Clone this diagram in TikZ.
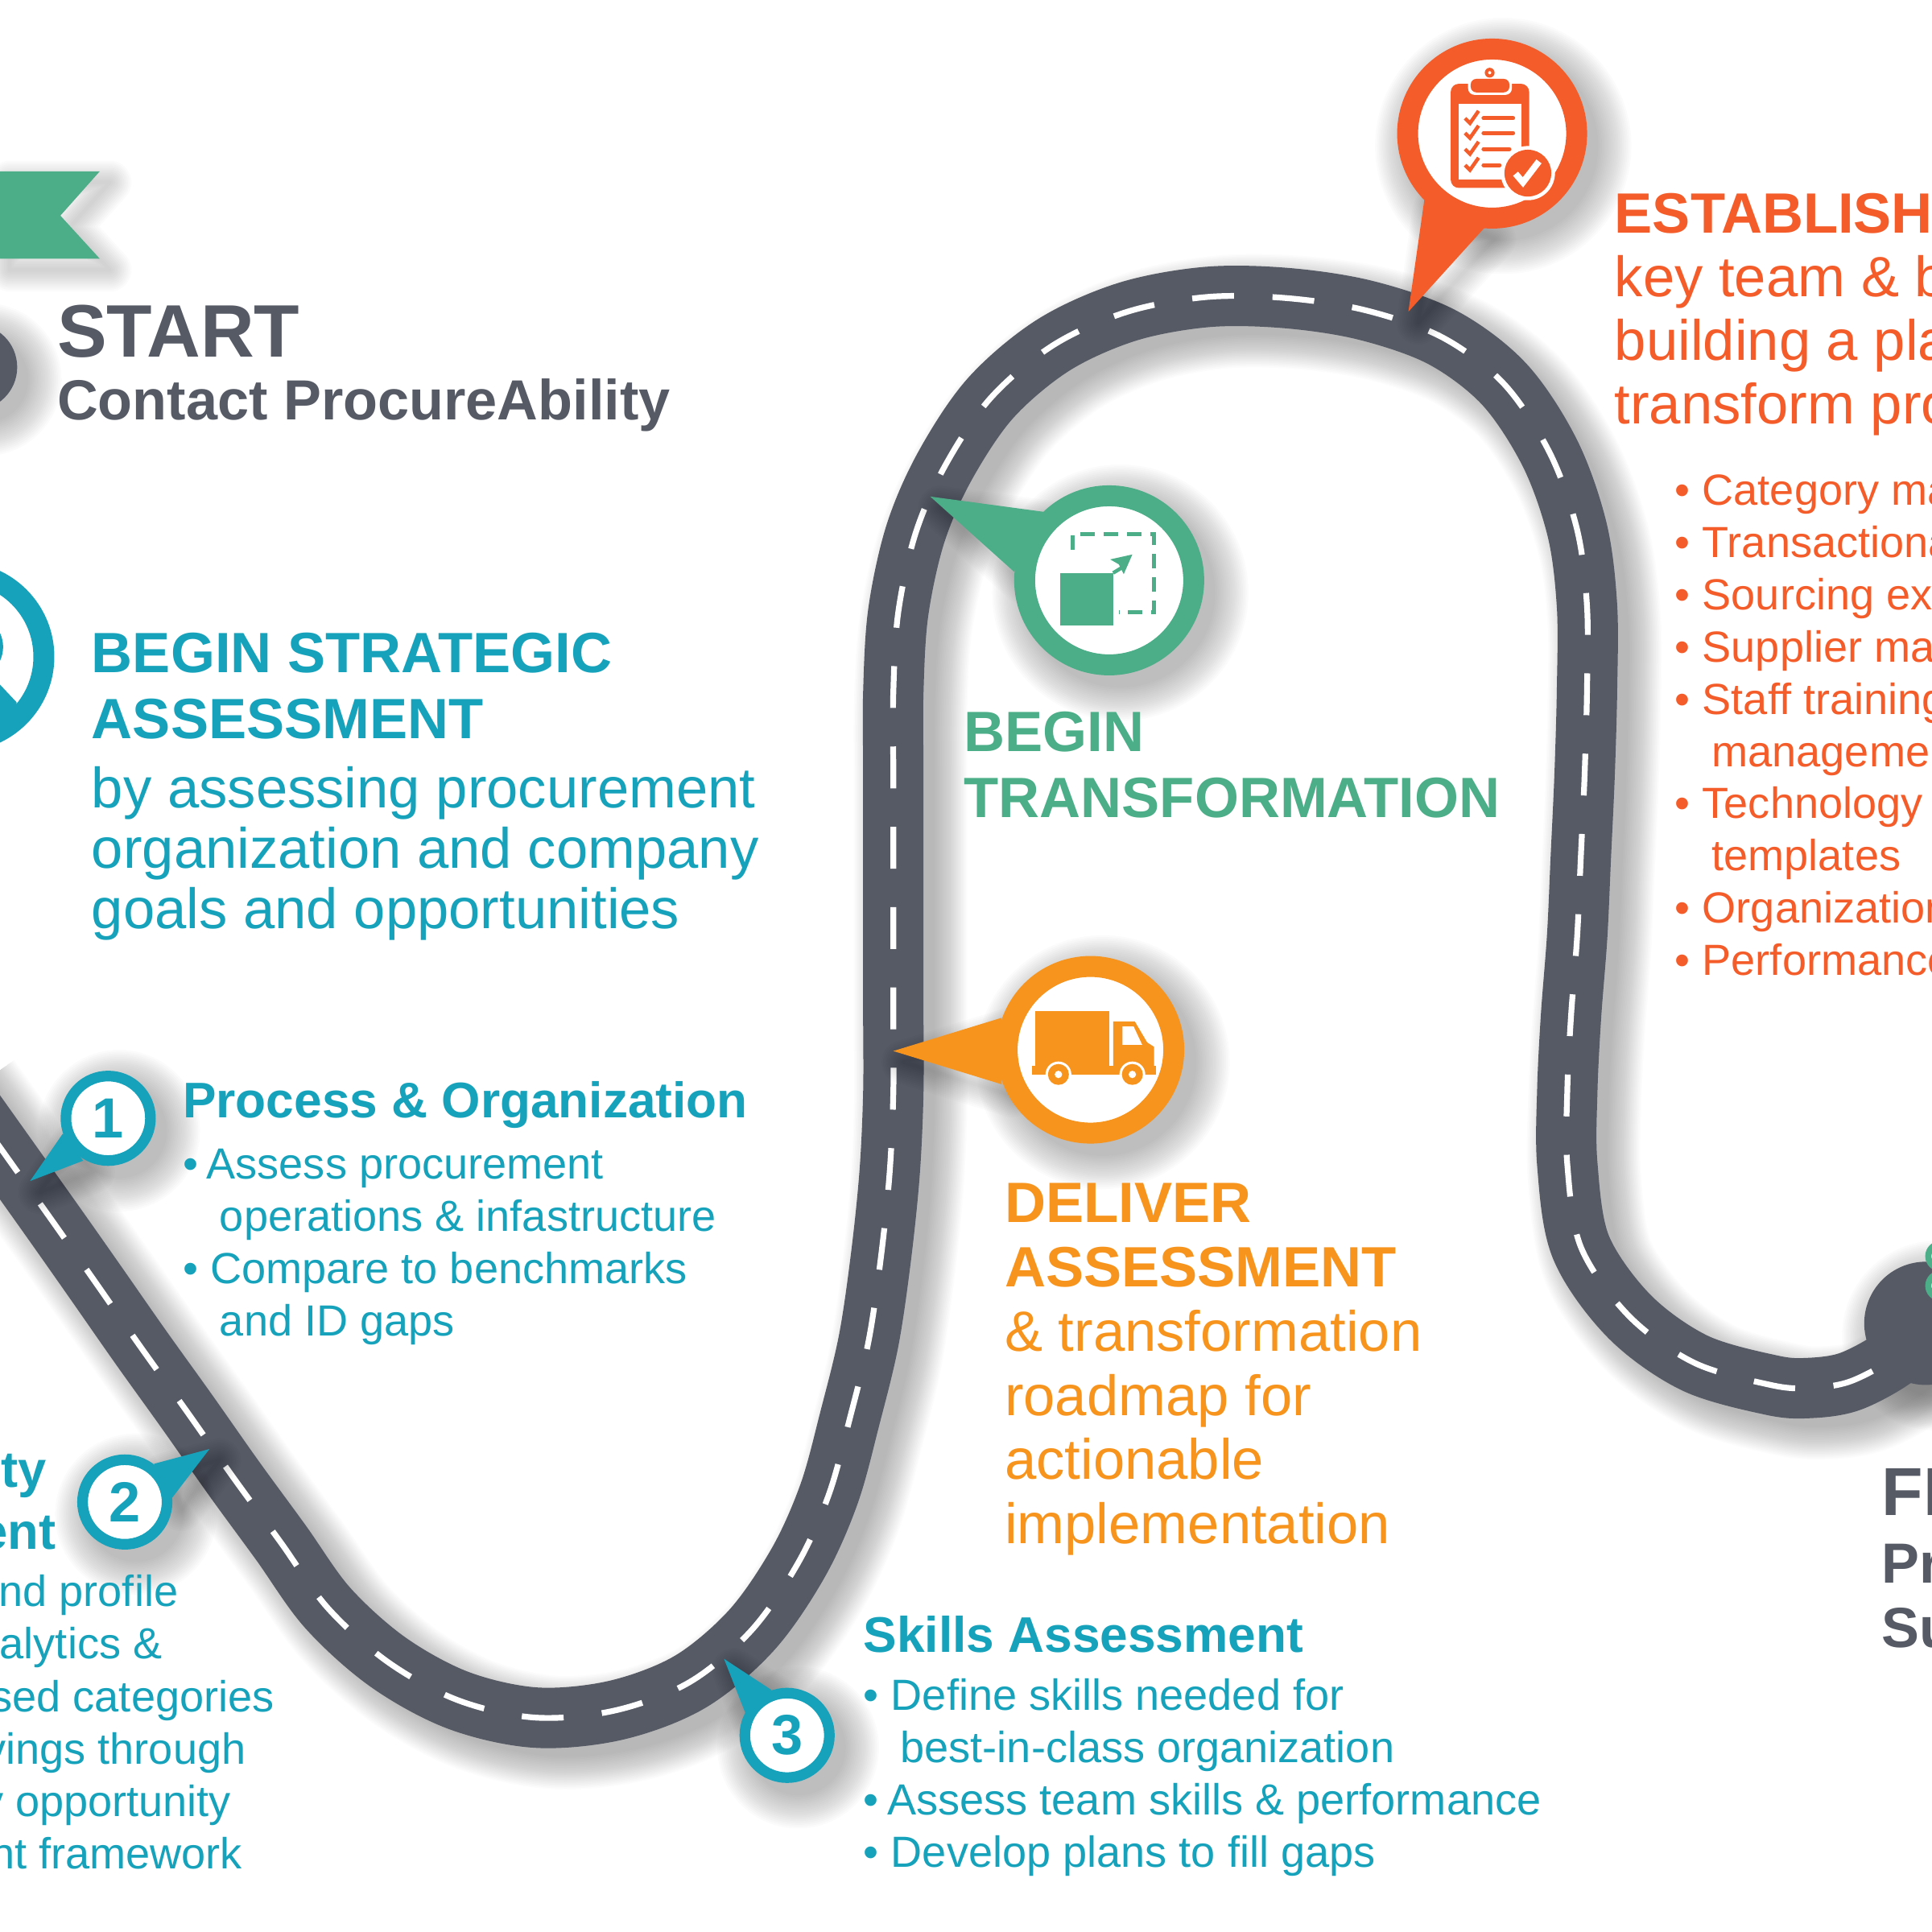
\documentclass[tikz,border=0pt]{standalone}
\usepackage{fontspec}
\setmainfont{Liberation Sans}
\definecolor{roadgray}{HTML}{565A65}
\definecolor{pinteal}{HTML}{17A2BB}
\definecolor{pingreen}{HTML}{4CAE88}
\definecolor{pinorange}{HTML}{F7941E}
\definecolor{pinred}{HTML}{F45D2A}
\newcommand{\ind}{\hspace*{13pt}}
\newcommand{\softdisc}[2]{\foreach \g in {0,1.5,...,27} {\fill[black, opacity=.017] ($(#1)+(9,10)$) circle ({#2+\g});}}
\newcommand{\softtail}[1]{\foreach \w in {1,...,12} {\draw[black, opacity=.015, line width=\w*0.45mm, line join=round, shift={(8,9)}] #1 -- cycle;}}
\def\roadpath{plot[smooth, tension=.55] coordinates {(-40,875) (39,986) (77,1040) (114,1093) (152,1146) (190,1200) (228,1252) (266,1305) (315,1349) (372,1380) (435,1394) (500,1388) (560,1365) (610,1323) (648,1268) (673,1212) (690,1150) (705,1088) (715,1020) (722,952) (725,887) (725,823) (725,758) (725,692) (725,626) (725,562) (729,497) (743,433) (767,378) (804,323) (855,280) (915,253) (980,241) (1045,242) (1109,252) (1171,274) (1221,312) (1258,368) (1280,430) (1288,492) (1288,560) (1286,630) (1283,695) (1280,760) (1275,825) (1272,885) (1272,945) (1283,1012) (1322,1068) (1375,1106) (1437,1124) (1468,1126.5) (1502,1121) (1540,1100) (1563,1074)}}
\tikzset{
    txt/.style={anchor=north west, inner sep=0pt, align=left},
    oneline/.style={anchor=base west, inner sep=0pt},
    headbig/.style={txt, font=\fontsize{20.1}{23.4}\selectfont\bfseries},
    bodybig/.style={txt, font=\fontsize{20.1}{22.4}\selectfont},
    headmid/.style={oneline, font=\fontsize{17.7}{20}\selectfont\bfseries},
    bullets/.style={txt, font=\fontsize{15.4}{18.45}\selectfont},
    bigpin/.style={circle, fill=white, minimum size=21mm, line width=2.6mm, inner sep=0pt},
    smallpin/.style={circle, fill=white, minimum size=10.5mm, line width=1.32mm, inner sep=0pt, text=pinteal, font=\fontsize{20}{20}\selectfont\bfseries}
}
\usetikzlibrary{calc}
\begin{document}
\begin{tikzpicture}[x=0.15306mm, y=-0.15306mm]
    \useasboundingbox (0,0) rectangle (1568,1568);
    \clip (0,0) rectangle (1568,1568);

    % Road
    \foreach \w in {6,6.3,...,14.4} {
        \draw[black, opacity=.013, line width=\w mm, shift={(14,12)}] \roadpath;
    }
    \softdisc{1563,1074}{50}
    \draw[roadgray, line width=7.5mm] \roadpath;
    \draw[white, line width=.72mm, dash pattern=on 5.2mm off 4.78mm, dash phase=.8mm] \roadpath;
    \fill[roadgray] (1563,1074) circle (50);

    % Ribbon and start disc
    \softtail{(0,139) -- (81,139) -- (49,175) -- (81,210) -- (0,210)}
    \fill[pingreen] (0,139) -- (81,139) -- (49,175) -- (81,210) -- (0,210) -- cycle;
    \softdisc{-21,298}{35}
    \node[circle, fill=roadgray, minimum size=10.7mm, inner sep=0pt] (startdisc) at (-21,298) {};

    % Numbered pins
    \softtail{(24.4,958.5) -- (51,920) -- (67.5,942)}
    \softdisc{87.8,907.6}{38.6}
    \fill[pinteal] (24.4,958.5) -- (51,920) -- (67.5,942) -- cycle;
    \node[smallpin, draw=pinteal] (pinone) at (87.8,907.6) {\raisebox{-.6pt}{1}};
    \softtail{(170,1176) -- (125,1188) -- (139.4,1216)}
    \softdisc{101.3,1219}{38.6}
    \fill[pinteal] (170,1176) -- (125,1188) -- (139.4,1216) -- cycle;
    \node[smallpin, draw=pinteal] (pintwo) at (101.3,1219) {2};
    \softtail{(587.6,1346.3) -- (604.8,1390) -- (626.2,1371.6)}
    \softdisc{638.8,1408.4}{38.6}
    \fill[pinteal] (587.6,1346.3) -- (604.8,1390) -- (626.2,1371.6) -- cycle;
    \node[smallpin, draw=pinteal] (pinthree) at (638.8,1408.4) {3};

    % Assessment pin (magnifier)
    \node[bigpin, draw=pinteal] (pinassess) at (-33,533) {};
    \draw[pinteal, line width=.77mm] (-24,525) circle (24);
    \fill[pinteal] (-10,545) -- (13.5,570) -- (13.5,590) -- (-10,600) -- cycle;

    % Transformation pin
    \softtail{(755,403) -- (847,415.4) -- (823,464)}
    \softdisc{900.2,471}{77}
    \fill[pingreen] (755,403) -- (847,415.4) -- (823,464) -- cycle;
    \node[bigpin, draw=pingreen] (pintrans) at (900.2,471) {};
    \draw[pingreen, line width=.45mm, dash pattern=on 1.8mm off 1.1mm] (870.5,446) -- (870.5,433.4) -- (936.6,433.4) -- (936.6,497) -- (908,497);
    \fill[pingreen] (860.7,465) rectangle (903.4,507.6);
    \draw[pingreen, line width=.45mm] (903.4,465) -- (910,461);
    \fill[pingreen] (919,450) -- (901,454) -- (908,458) -- (912,466) -- cycle;

    % Delivery pin
    \softtail{(725,853) -- (813,826) -- (813,880)}
    \softdisc{886,852}{76}
    \fill[pinorange] (725,853) -- (813,826) -- (813,880) -- cycle;
    \node[bigpin, draw=pinorange, minimum size=20.7mm] (pindeliver) at (885,852) {};
    \fill[pinorange] (840,820.7) rectangle (900.6,872);
    \fill[pinorange] (837.4,865) rectangle (938,872);
    \fill[pinorange] (903.5,829) -- (921,829) -- (931,846) -- (936.6,849.6) -- (936.6,872) -- (903.5,872) -- cycle;
    \fill[white] (911,833) -- (920,833) -- (927,848) -- (911,848) -- cycle;
    \foreach \wx in {859,919} {
        \fill[white] (\wx,872) circle (10.5);
        \fill[pinorange] (\wx,872) circle (8.5);
        \fill[white] (\wx,872) circle (3);
    }

    % Establish pin
    \softtail{(1143,253) -- (1156,162) -- (1204.6,185)}
    \softdisc{1211,108.4}{77}
    \fill[pinred] (1143,253) -- (1156,162) -- (1204.6,185) -- cycle;
    \node[bigpin, draw=pinred] (pinestablish) at (1211,108.4) {};
    \fill[pinred, rounded corners=1mm] (1177.4,68) rectangle (1241,152.5);
    \fill[white] (1183.6,84) rectangle (1235,146);
    \fill[white, rounded corners=.8mm] (1191.5,62) rectangle (1227,77);
    \fill[pinred, rounded corners=.7mm] (1193.6,64) rectangle (1225,75);
    \fill[pinred] (1209,59) circle (4);
    \fill[white] (1209,59) circle (1.3);
    \foreach \cy/\lend in {96/1228,108/1228,121/1225,134/1217} {
        \draw[pinred, line width=.45mm] (1189,\cy) -- (1193,{\cy+4}) -- (1200,{\cy-6});
        \draw[pinred, line width=.5mm, line cap=round] (1204,\cy) -- (\lend,\cy);
    }
    \fill[white] (1240,140.5) circle (22);
    \fill[pinred] (1240,140.5) circle (19);
    \draw[white, line width=.8mm] (1230,141) -- (1236,148) -- (1249,131);

    % End of road
    \draw[pingreen, fill=white, line width=.77mm] (1575,1019.5) circle (10);
    \draw[pingreen, fill=white, line width=.77mm] (1575,1043.5) circle (10);

    % Start text
    \node[oneline, text=roadgray, font=\fontsize{26.3}{28}\selectfont\bfseries] (starttitle) at (46,289.5) {START};
    \node[oneline, text=roadgray, font=\fontsize{20}{23}\selectfont\bfseries] (startbody) at (46,341) {Contact ProcureAbility};

    % Strategic assessment
    \node[headbig, text=pinteal] (assesstitle) at (74,513) {BEGIN STRATEGIC\\ASSESSMENT};
    \node[txt, text=pinteal, font=\fontsize{20.1}{21.3}\selectfont] (assessbody) at (74,622) {by assessing procurement\\organization and company\\goals and opportunities};

    % Process and organization
    \node[headmid, text=pinteal] (proctitle) at (148,907) {Process \& Organization};
    \node[bullets, text=pinteal] (procbody) at (148,932) {• \kern-1.3pt Assess procurement\\\ind operations \& infastructure\\• Compare to benchmarks\\\ind and ID gaps};

    % Left side, cut by the edge
    \node[anchor=base east, inner sep=0pt, text=pinteal, font=\fontsize{18}{20}\selectfont\bfseries] (opptyone) at (38,1207) {ty};
    \node[anchor=base east, inner sep=0pt, text=pinteal, font=\fontsize{18}{20}\selectfont\bfseries] (opptytwo) at (45.6,1257) {ent};
    \foreach \xe/\ye/\line [count=\i] in {145/1303.5/nd profile, 132/1346/alytics \&, 223/1389/sed categories, 200/1431.5/vings through, 188/1474/y opportunity, 197/1517/nt framework} {
        \node[anchor=base east, inner sep=0pt, text=pinteal, font=\fontsize{15.4}{18}\selectfont] (frag\i) at (\xe,\ye) {\line};
    }

    % Skills assessment
    \node[headmid, text=pinteal] (skilltitle) at (700.5,1341) {Skills Assessment};
    \node[bullets, text=pinteal] (skillbody) at (700.5,1362) {• Define skills needed for\\\ind best-in-class organization\\• \kern-1.3pt Assess team skills \& performance\\• Develop plans to fill gaps};

    % Transformation and delivery
    \node[headbig, text=pingreen] (transtitle) at (782,577) {BEGIN\\TRANSFORMATION};
    \node[headbig, text=pinorange, font=\fontsize{20.1}{22.6}\selectfont\bfseries] (delivertitle) at (815,960) {DELIVER\\ASSESSMENT};
    \node[txt, text=pinorange, font=\fontsize{20.1}{22.6}\selectfont] (deliverbody) at (815,1063) {\& transformation\\roadmap for\\actionable\\implementation};

    % Establish, cut by the edge
    \node[oneline, text=pinred, font=\fontsize{20.1}{23}\selectfont\bfseries] (establishtitle) at (1310,189) {ESTABLISH};
    \node[bodybig, text=pinred] (establishbody) at (1310,207) {key team \& b\\building a pla\\transform pro};
    \node[bullets, text=pinred] (establishlist) at (1359,385) {• Category ma\\• Transactiona\\• Sourcing ex\\• Supplier ma\\• Staff training\\\ind managemen\\• Technology\\\ind templates\\• Organization\\• Performance};

    % Finish, cut by the edge
    \node[oneline, text=roadgray, font=\fontsize{24}{26}\selectfont\bfseries] (finishtitle) at (1527,1230) {FI};
    \node[oneline, text=roadgray, font=\fontsize{20}{23}\selectfont\bfseries] (finishone) at (1527,1285) {Pr};
    \node[oneline, text=roadgray, font=\fontsize{20}{23}\selectfont\bfseries] (finishtwo) at (1527,1337) {Su};
\end{tikzpicture}
\end{document}
